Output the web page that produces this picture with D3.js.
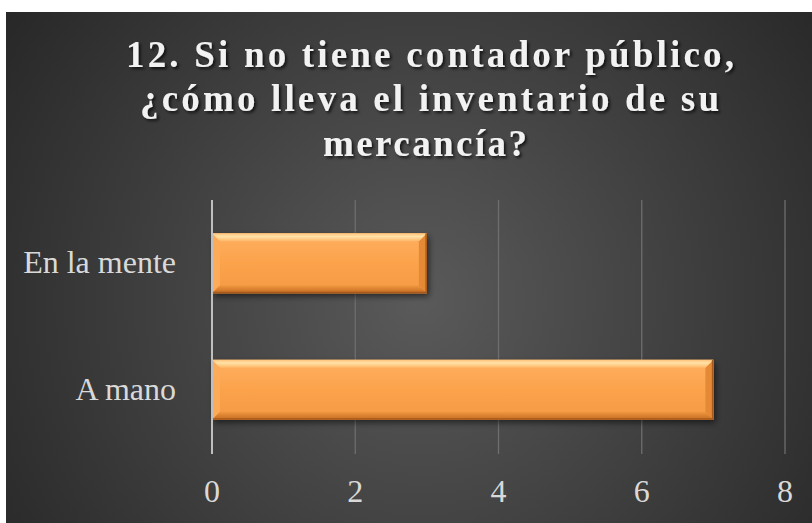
<!DOCTYPE html>
<html><head><meta charset="utf-8">
<script src="https://cdn.jsdelivr.net/npm/d3@7"></script>
<style>html,body{margin:0;padding:0;background:#fff;overflow:hidden}svg{display:block}
text{font-family:"Liberation Serif","Times New Roman","DejaVu Serif","Noto Serif",Tinos,Times,serif}</style>
</head><body>
<script>
const titleLines = ["12. Si no tiene contador público,", "¿cómo lleva el inventario de su", "mercancía?"];
const categories = ["En la mente", "A mano"];
const values = [3, 7];
const xTicks = [0, 2, 4, 6, 8];

const W = 812, H = 523;
const svg = d3.select("body").append("svg").attr("width", W).attr("height", H);
const defs = svg.append("defs");

const bg = defs.append("radialGradient").attr("id", "bg").attr("gradientUnits", "userSpaceOnUse")
  .attr("cx", 420).attr("cy", 300).attr("r", 520);
bg.append("stop").attr("offset", "0%").attr("stop-color", "#5a5a5a");
bg.append("stop").attr("offset", "100%").attr("stop-color", "#262626");

const barG = defs.append("linearGradient").attr("id", "barG").attr("x1", 0).attr("y1", 0).attr("x2", 0).attr("y2", 1);
barG.append("stop").attr("offset", "0%").attr("stop-color", "#ffb060");
barG.append("stop").attr("offset", "50%").attr("stop-color", "#fba24c");
barG.append("stop").attr("offset", "100%").attr("stop-color", "#f59a44");

const topG = defs.append("linearGradient").attr("id", "topG").attr("x1", 0).attr("y1", 0).attr("x2", 0).attr("y2", 1);
topG.append("stop").attr("offset", "0%").attr("stop-color", "#ffc27a");
topG.append("stop").attr("offset", "40%").attr("stop-color", "#ffe2a6");
topG.append("stop").attr("offset", "100%").attr("stop-color", "#ffb767");
const botG = defs.append("linearGradient").attr("id", "botG").attr("x1", 0).attr("y1", 0).attr("x2", 0).attr("y2", 1);
botG.append("stop").attr("offset", "0%").attr("stop-color", "#f09840");
botG.append("stop").attr("offset", "100%").attr("stop-color", "#c46a22");

const sh = defs.append("filter").attr("id", "tsh").attr("x", "-10%").attr("y", "-30%").attr("width", "120%").attr("height", "160%");
sh.append("feDropShadow").attr("dx", 2).attr("dy", 2).attr("stdDeviation", 1.5).attr("flood-color", "#000").attr("flood-opacity", 0.7);
const bsh = defs.append("filter").attr("id", "bsh").attr("x", "-10%").attr("y", "-20%").attr("width", "130%").attr("height", "150%");
bsh.append("feDropShadow").attr("dx", 2).attr("dy", 3).attr("stdDeviation", 3).attr("flood-color", "#000").attr("flood-opacity", 0.55);

svg.append("rect").attr("x", 6).attr("y", 12).attr("width", W - 6).attr("height", H - 12).attr("fill", "url(#bg)");

// Title
const tl = [{x0: 126, x1: 734, y: 67}, {x0: 140, x1: 719, y: 111}, {x0: 323, x1: 527, y: 156}];
svg.append("g").attr("filter", "url(#tsh)").selectAll("text").data(titleLines).join("text")
  .attr("x", (d, i) => tl[i].x0).attr("y", (d, i) => tl[i].y)
  .attr("textLength", (d, i) => tl[i].x1 - tl[i].x0).attr("lengthAdjust", "spacing")
  .attr("font-weight", "bold")
  .attr("font-size", 37).attr("fill", "#f2f2f2").text(d => d);

// Scales
const x = d3.scaleLinear().domain([0, 8]).range([212, 785]);
const y = d3.scaleBand().domain(categories).range([200, 453]).paddingInner(0.526).paddingOuter(0.263);

// Gridlines
svg.append("g").selectAll("line").data(xTicks.slice(1)).join("line")
  .attr("x1", d => x(d)).attr("x2", d => x(d)).attr("y1", 200).attr("y2", 454)
  .attr("stroke", "#6e6e6e").attr("stroke-width", 1.3);

// X tick labels
svg.append("g").selectAll("text").data(xTicks).join("text")
  .attr("x", d => x(d)).attr("y", 502).attr("text-anchor", "middle")
  .attr("font-size", 32)
  .attr("fill", "#d9d9d9").text(d => d);

// Category labels
svg.append("g").selectAll("text").data(categories).join("text")
  .attr("x", 176).attr("y", d => y(d) + y.bandwidth() / 2 + 10).attr("text-anchor", "end")
  .attr("font-size", 32)
  .attr("fill", "#d9d9d9").text(d => d);

// Bars with bevel
const data = categories.map((c, i) => ({c, v: values[i]}));
const bars = svg.append("g").selectAll("g").data(data).join("g");
bars.append("rect").attr("x", x(0)).attr("y", d => y(d.c)).attr("width", d => x(d.v) - x(0))
  .attr("height", y.bandwidth()).attr("fill", "url(#barG)").attr("filter", "url(#bsh)");
const bv = 8;
function poly(pts) { return pts.map(p => p.join(",")).join(" "); }
bars.append("polygon").attr("points", d => { const x0 = x(0), y0 = y(d.c), y1 = y0 + y.bandwidth();
  return poly([[x0, y0], [x0 + bv, y0 + bv], [x0 + bv, y1 - bv], [x0, y1]]); }).attr("fill", "#fdab58");
bars.append("polygon").attr("points", d => { const x0 = x(0), x1 = x(d.v), y1 = y(d.c) + y.bandwidth();
  return poly([[x0, y1], [x0 + bv, y1 - bv], [x1 - bv, y1 - bv], [x1, y1]]); }).attr("fill", "url(#botG)");
bars.append("polygon").attr("points", d => { const x1 = x(d.v), y0 = y(d.c), y1 = y0 + y.bandwidth();
  return poly([[x1, y0], [x1, y1], [x1 - bv, y1 - bv], [x1 - bv, y0 + bv]]); }).attr("fill", "#e48a36");
bars.append("polygon").attr("points", d => { const x0 = x(0), x1 = x(d.v), y0 = y(d.c);
  return poly([[x0, y0], [x1, y0], [x1 - bv, y0 + bv], [x0 + bv, y0 + bv]]); }).attr("fill", "url(#topG)");
bars.append("rect").attr("x", d => x(d.v) - 1.5).attr("y", d => y(d.c)).attr("width", 1.5)
  .attr("height", y.bandwidth()).attr("fill", "#a85a1c");
bars.append("rect").attr("x", x(0)).attr("y", d => y(d.c) + y.bandwidth() - 1.5).attr("width", d => x(d.v) - x(0))
  .attr("height", 1.5).attr("fill", "#a85a1c");

// Axis line
svg.append("line").attr("x1", x(0)).attr("x2", x(0)).attr("y1", 200).attr("y2", 454)
  .attr("stroke", "#bfbfbf").attr("stroke-width", 2);
</script>
</body></html>
